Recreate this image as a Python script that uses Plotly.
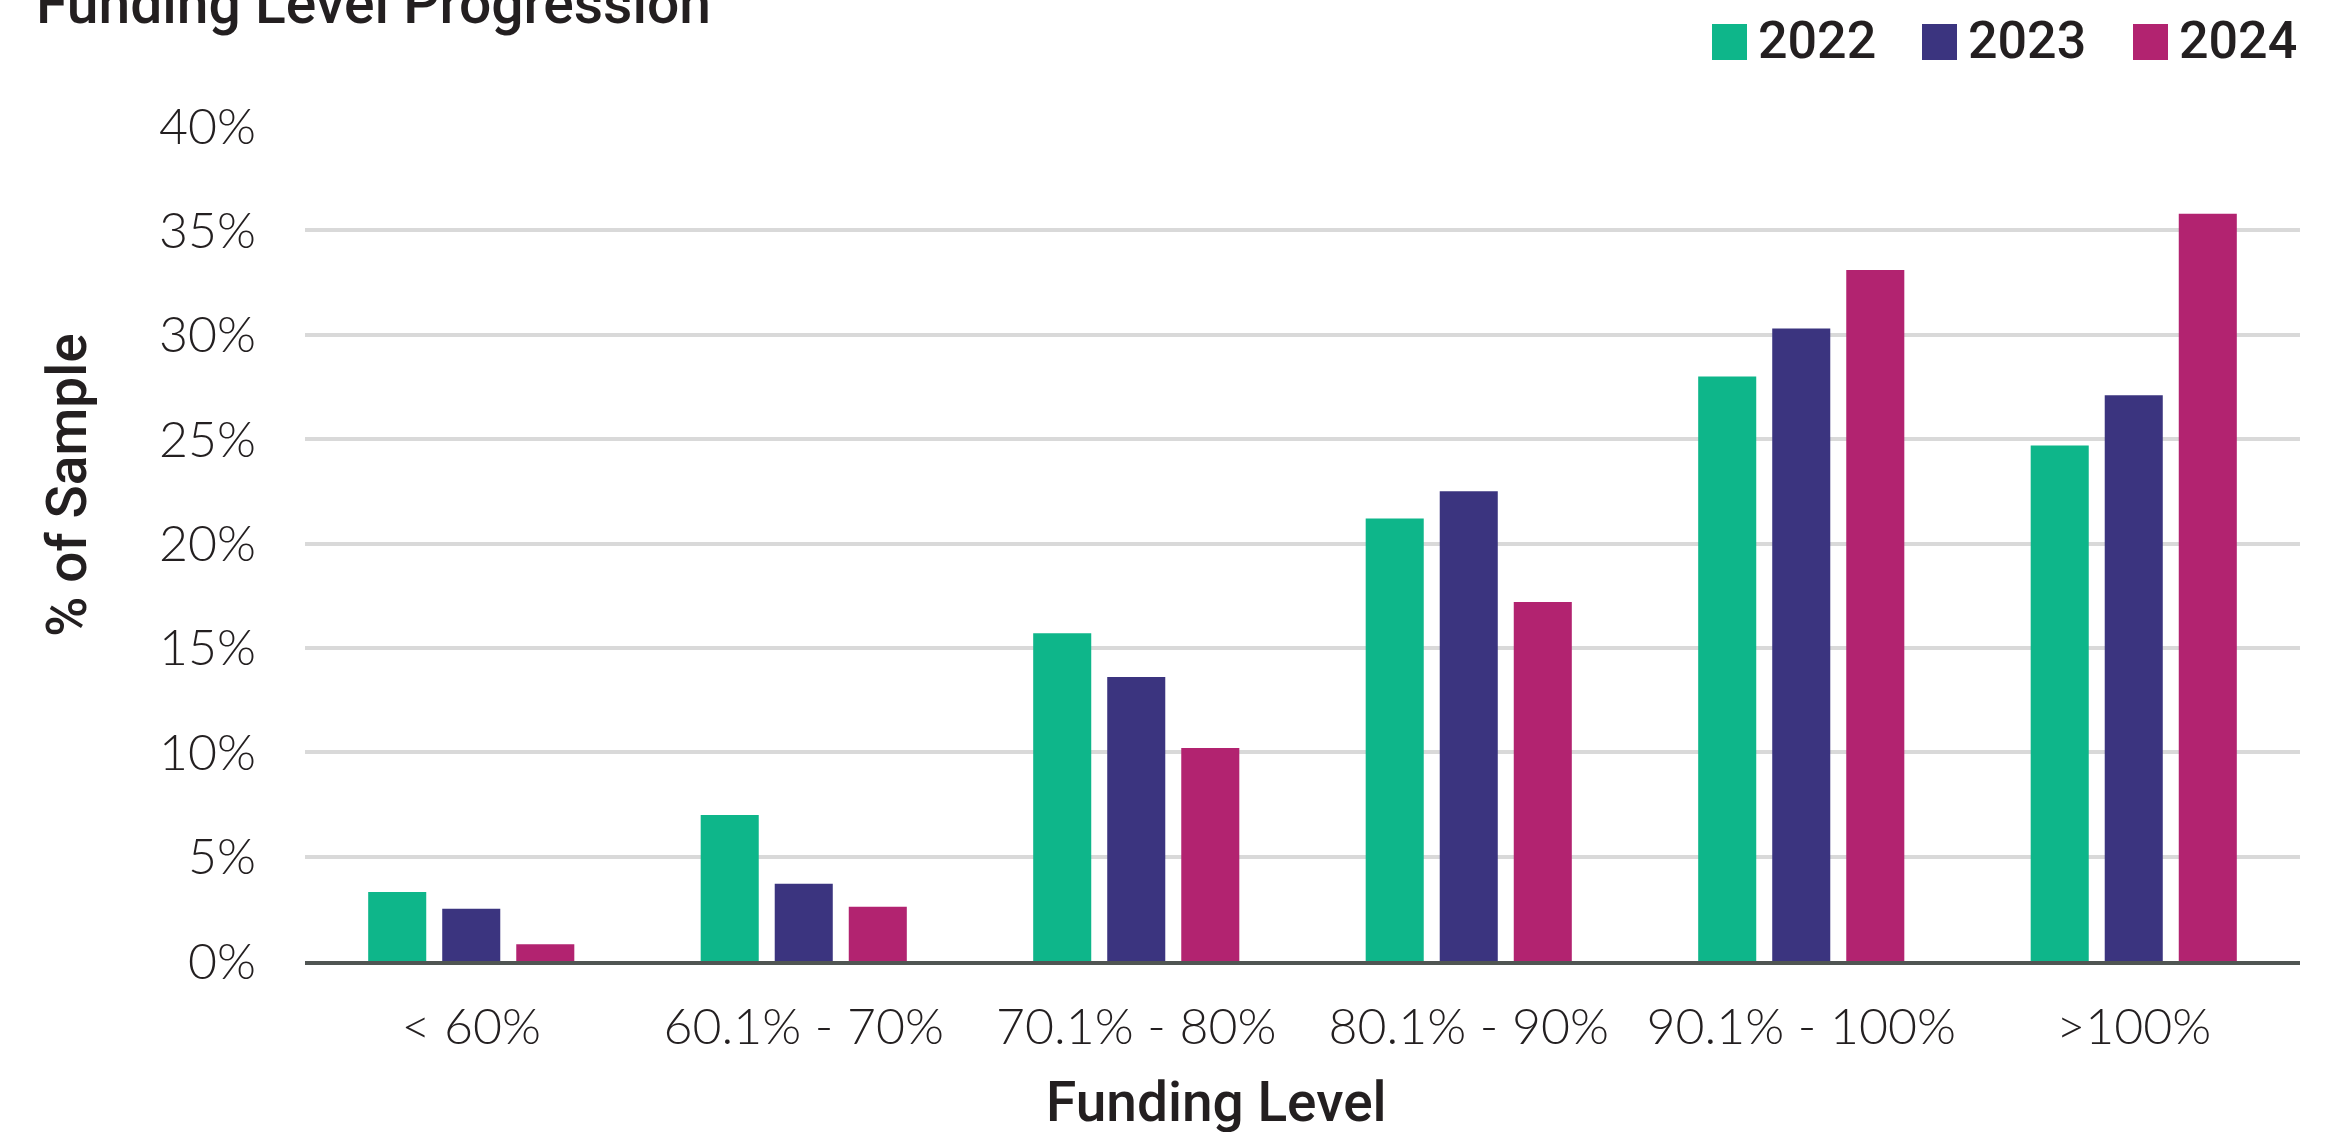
import plotly.graph_objects as go

# Funding level buckets and share of sample per year (%)
categories = ["< 60%", "60.1% - 70%", "70.1% - 80%", "80.1% - 90%", "90.1% - 100%", ">100%"]
years = ["2022", "2023", "2024"]
share_2022 = [3.3, 7.0, 15.7, 21.2, 28.0, 24.7]
share_2023 = [2.5, 3.7, 13.6, 22.5, 30.3, 27.1]
share_2024 = [0.8, 2.6, 10.2, 17.2, 33.1, 35.8]
colors = ["#0EB68A", "#3B347F", "#B22370"]

y_ticks = [0, 5, 10, 15, 20, 25, 30, 35, 40]
y_tick_text = [f"{v}%" for v in y_ticks]

W, H = 2351, 1132
M_L, M_R, M_T, M_B = 305, 51, 126, 171
PW = W - M_L - M_R
PH = H - M_T - M_B

TEXT = "#231F20"
TICK_FONT = dict(family="Lato", size=50, color=TEXT, weight=300)
LABEL_FONT = dict(family="Roboto", size=55, color=TEXT, weight=500)


def px_x(px):
    return (px - M_L) / PW


def px_y(py):
    return (H - M_B - py) / PH


fig = go.Figure()
for name, vals, col in zip(years, [share_2022, share_2023, share_2024], colors):
    fig.add_trace(go.Bar(
        x=categories, y=vals, name=name,
        marker=dict(color=col, line=dict(width=0)),
        showlegend=False,
    ))

# Legend drawn as square swatches with year labels, top right
legend_left = [1712, 1922, 2133]
sw = 35
shapes = []
annotations = []
for left, name, col in zip(legend_left, years, colors):
    shapes.append(dict(
        type="rect", xref="paper", yref="paper",
        x0=px_x(left), x1=px_x(left + sw), y0=px_y(60), y1=px_y(24),
        fillcolor=col, line=dict(width=0),
    ))
    annotations.append(dict(
        text=name, xref="paper", yref="paper", x=px_x(left + sw + 9), y=px_y(41),
        xanchor="left", yanchor="middle", showarrow=False,
        font=dict(family="Roboto", size=52, color=TEXT, weight=500),
    ))

annotations += [
    dict(text="Funding Level Progression", xref="paper", yref="paper",
         x=px_x(34), y=px_y(4), xanchor="left", yanchor="middle",
         showarrow=False, font=dict(LABEL_FONT, size=57)),
    dict(text="% of Sample", xref="paper", yref="paper",
         x=px_x(67), y=px_y(485), xanchor="center", yanchor="middle",
         textangle=-90, showarrow=False, font=LABEL_FONT),
    dict(text="Funding Level", xref="paper", yref="paper",
         x=px_x(1216), y=px_y(1102), xanchor="center", yanchor="middle",
         showarrow=False, font=LABEL_FONT),
]

fig.update_layout(
    width=W, height=H,
    margin=dict(l=M_L, r=M_R, t=M_T, b=M_B, pad=0),
    paper_bgcolor="white", plot_bgcolor="white",
    barmode="group", bargap=0.332, bargroupgap=0.216,
    showlegend=False,
    shapes=shapes, annotations=annotations,
    xaxis=dict(
        showline=True, linecolor="#505553", linewidth=4,
        showgrid=False, ticks="", tickfont=TICK_FONT,
        ticklabelstandoff=19,
    ),
    yaxis=dict(
        range=[0, 40], tickvals=y_ticks, ticktext=y_tick_text,
        showgrid=True, gridcolor="#D9D9D9", gridwidth=4,
        zeroline=False, showline=False, ticks="",
        tickfont=TICK_FONT, ticklabelstandoff=48,
    ),
)

fig.write_html("out.html")
